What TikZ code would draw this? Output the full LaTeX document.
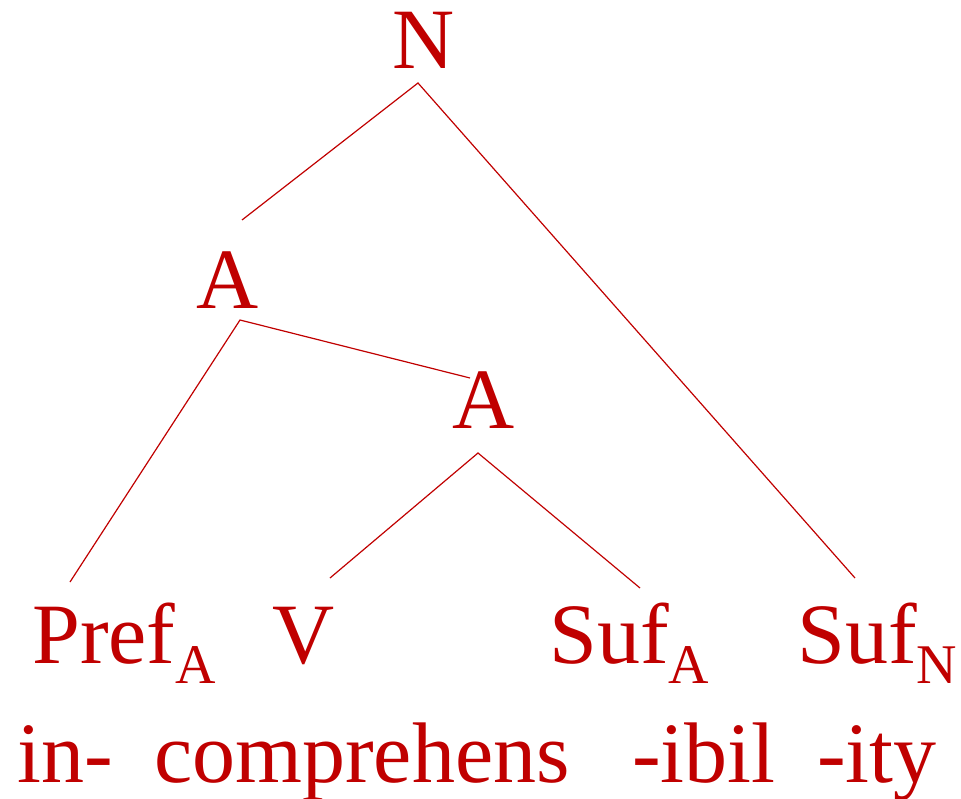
\documentclass[tikz,border=0pt]{standalone}
\usepackage{fontspec}
\setmainfont{Liberation Serif}
\definecolor{treered}{HTML}{C00000}
\newcommand{\bigtxt}{\fontsize{86}{90}\selectfont}
\newcommand{\sbs}[1]{\raisebox{-20pt}{\fontsize{56}{58}\selectfont #1}}
\begin{document}
\begin{tikzpicture}[x=1pt,y=-1pt,
  lbl/.style={inner sep=0pt,text=treered,font=\bigtxt},
  branch/.style={draw=treered,line width=1.2pt}]
\useasboundingbox (0,0) rectangle (961,798);
% category labels
\node[lbl,anchor=base] (N) at (424,68) {N};
\node[lbl,anchor=base] (A1) at (228,308) {A};
\node[lbl,anchor=base] (A2) at (484,428) {A};
\node[lbl,anchor=base west] (Pref) at (32,663) {Pref\sbs{A}};
\node[lbl,anchor=base] (V) at (304,663) {V};
\node[lbl,anchor=base west] (SufA) at (549,663) {Suf\sbs{A}};
\node[lbl,anchor=base west] (SufN) at (797,663) {Suf\sbs{N}};
% morphemes
\node[lbl,anchor=base west] (m1) at (17,782) {in-};
\node[lbl,anchor=base west] (m2) at (154,782) {comprehens};
\node[lbl,anchor=base west] (m3) at (632,782) {-ibil};
\node[lbl,anchor=base west] (m4) at (817,782) {-ity};
% branch end points
\coordinate (Nb) at (418,83);
\coordinate (A1t) at (242,220);
\coordinate (A1b) at (240,320);
\coordinate (A2t) at (470,378);
\coordinate (A2b) at (478,453);
\coordinate (Preft) at (70,582);
\coordinate (Vt) at (330,578);
\coordinate (SufAt) at (640,588);
\coordinate (SufNt) at (855,578);
% branches
\draw[branch] (A1t) -- (Nb) -- (SufNt);
\draw[branch] (Preft) -- (A1b) -- (A2t);
\draw[branch] (Vt) -- (A2b) -- (SufAt);
\end{tikzpicture}
\end{document}
